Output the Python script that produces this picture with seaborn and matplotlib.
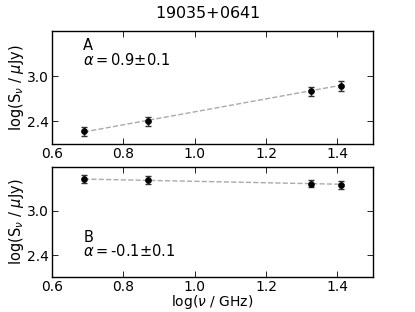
import matplotlib
matplotlib.use('Agg')
import matplotlib.pyplot as plt
import seaborn as sns
import pandas as pd

# log frequency (GHz) of the four bands
log_nu = [0.69, 0.87, 1.325, 1.41]

# component A and B flux densities, log(uJy)
log_s_a = [2.27, 2.40, 2.80, 2.87]
log_s_b = [3.43, 3.42, 3.37, 3.35]
err_a = [0.06, 0.06, 0.06, 0.06]
err_b = [0.05, 0.05, 0.05, 0.05]

fit_x = [0.69, 1.41]
fit_a = [2.26, 2.88]
fit_b = [3.43, 3.36]

labels = ['A', 'B']
alphas = ['0.9', '-0.1']

sns.set_style('ticks', {'xtick.direction': 'in', 'ytick.direction': 'in',
                        'text.color': 'black', 'axes.labelcolor': 'black',
                        'xtick.color': 'black', 'ytick.color': 'black',
                        'axes.edgecolor': 'black'})
plt.rcParams['font.family'] = ['DejaVu Sans']

fig = plt.figure(figsize=(4.15, 3.12), dpi=100)
ax1 = fig.add_axes([0.125, 0.5385, 0.774, 0.362])
ax2 = fig.add_axes([0.125, 0.1110, 0.774, 0.3553])

# text baselines in axes fraction: (name line, alpha line)
text_y = [(0.83, 0.70), (0.32, 0.19)]

panels = [(ax1, log_s_a, err_a, fit_a), (ax2, log_s_b, err_b, fit_b)]
for i, (ax, ys, errs, fit) in enumerate(panels):
    df = pd.DataFrame({'x': log_nu, 'y': ys})
    dfit = pd.DataFrame({'x': fit_x, 'y': fit})
    sns.lineplot(data=dfit, x='x', y='y', ax=ax, color='#aaaaaa',
                 linestyle='--', linewidth=1, dashes=(4, 3))
    ax.errorbar(log_nu, ys, yerr=errs, fmt='none', ecolor='#333333',
                elinewidth=1, capsize=2, capthick=1)
    sns.scatterplot(data=df, x='x', y='y', ax=ax, color='black', s=18,
                    edgecolor='black', linewidth=0.5, zorder=3)
    ax.set_xlim(0.6, 1.5)
    ax.set_ylim(2.1, 3.6)
    ax.set_xticks([0.6, 0.8, 1.0, 1.2, 1.4])
    ax.set_yticks([2.4, 3.0])
    ax.tick_params(top=True, right=True, length=4, width=0.6,
                   labelsize=10)
    ax.tick_params(axis='x', pad=2)
    ax.tick_params(axis='y', pad=2)
    for sp in ax.spines.values():
        sp.set_linewidth(1)
    ax.set_ylabel(r'log(S$_\nu$ / $\mu$Jy)', fontsize=10.5, labelpad=1)
    ax.set_xlabel('')
    ax.text(0.098, text_y[i][0], labels[i], transform=ax.transAxes,
            fontsize=10.5, va='baseline', ha='left')
    ax.text(0.098, text_y[i][1], r'$\alpha=$' + alphas[i] + r'$\pm$0.1',
            transform=ax.transAxes, fontsize=10.5, va='baseline', ha='left')

ax2.set_xlabel(r'log($\nu$ / GHz)', fontsize=10, labelpad=-0.5)
fig.suptitle(r'19035$+$0641', fontsize=11.5, y=0.985)

fig.savefig('out.png', dpi=100)
